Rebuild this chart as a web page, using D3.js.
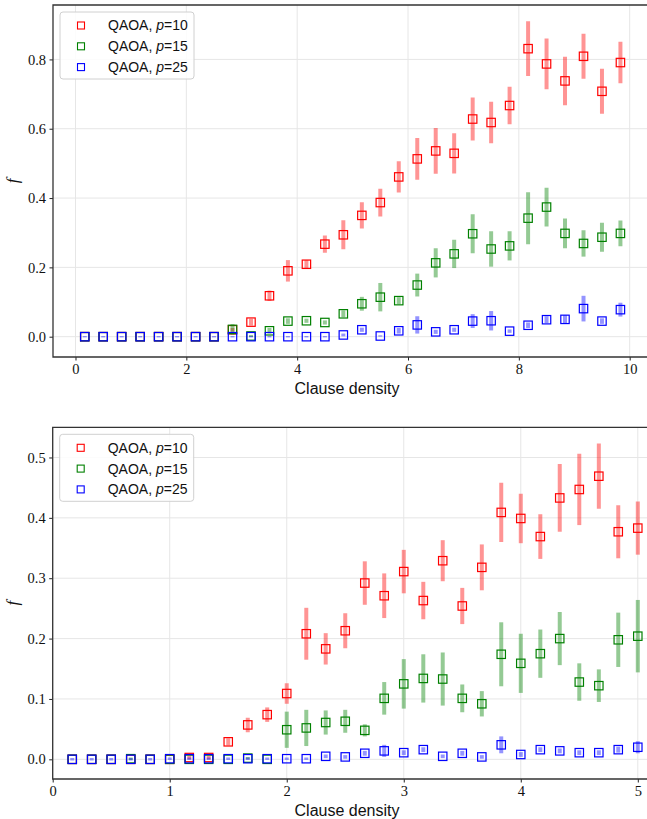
<!DOCTYPE html>
<html>
<head>
<meta charset="utf-8">
<script src="https://cdn.jsdelivr.net/npm/d3@7"></script>
<style>
  body { margin: 0; background: #fff; }
  svg { display: block; }
  .legend text { font-family: 'Liberation Sans', Arial, sans-serif; font-size: 14px; fill: #111; }
</style>
</head>
<body>
<svg id="chart" width="647" height="819"></svg>
<script>
// x positions (clause density) of the top run: steps of 1/3
const xTop = [0.167, 0.5, 0.833, 1.167, 1.5, 1.833, 2.167, 2.5, 2.833, 3.167,
  3.5, 3.833, 4.167, 4.5, 4.833, 5.167, 5.5, 5.833, 6.167, 6.5,
  6.833, 7.167, 7.5, 7.833, 8.167, 8.5, 8.833, 9.167, 9.5, 9.833];

const red10Top = [0, 0, 0, 0, 0, 0, 0, 0, 0.02, 0.042,
  0.118, 0.19, 0.209, 0.267, 0.294, 0.35, 0.387, 0.461, 0.513, 0.536,
  0.529, 0.628, 0.618, 0.667, 0.831, 0.787, 0.738, 0.809, 0.708, 0.791];
const red10TopErr = [0, 0, 0, 0, 0, 0, 0, 0, 0.005, 0.01,
  0.015, 0.031, 0.012, 0.025, 0.042, 0.038, 0.04, 0.045, 0.06, 0.066,
  0.058, 0.062, 0.06, 0.054, 0.079, 0.073, 0.07, 0.065, 0.065, 0.06];

const green15Top = [0, 0, 0, 0, 0, 0, 0, 0, 0.021, 0.002,
  0.017, 0.045, 0.046, 0.041, 0.066, 0.095, 0.114, 0.104, 0.149, 0.213,
  0.239, 0.297, 0.253, 0.262, 0.342, 0.374, 0.298, 0.269, 0.287, 0.298];
const green15TopErr = [0, 0, 0, 0, 0, 0, 0, 0, 0.015, 0.003,
  0.008, 0.008, 0.006, 0.006, 0.01, 0.02, 0.041, 0.01, 0.033, 0.042,
  0.041, 0.056, 0.051, 0.042, 0.075, 0.056, 0.043, 0.038, 0.042, 0.037];

const blue25Top = [0, 0, 0, 0, 0, 0, 0, 0, 0, 0,
  0, 0, 0, 0, 0.005, 0.02, 0.002, 0.017, 0.034, 0.014,
  0.02, 0.045, 0.046, 0.016, 0.033, 0.049, 0.05, 0.081, 0.045, 0.078];
const blue25TopErr = [0.002, 0.002, 0.002, 0.002, 0.002, 0.002, 0.002, 0.002, 0.002, 0.002,
  0.002, 0.002, 0.002, 0.002, 0.004, 0.006, 0.002, 0.008, 0.025, 0.006,
  0.006, 0.02, 0.028, 0.005, 0.008, 0.01, 0.012, 0.037, 0.008, 0.02];

// bottom run: steps of 1/6
const xBot = [0.167, 0.333, 0.5, 0.667, 0.833, 1.0, 1.167, 1.333, 1.5, 1.667,
  1.833, 2.0, 2.167, 2.333, 2.5, 2.667, 2.833, 3.0, 3.167, 3.333,
  3.5, 3.667, 3.833, 4.0, 4.167, 4.333, 4.5, 4.667, 4.833, 5.0];

const red10Bot = [0, 0, 0, 0, 0, 0, 0.003, 0.003, 0.029, 0.057,
  0.074, 0.109, 0.208, 0.183, 0.213, 0.292, 0.271, 0.311, 0.263, 0.329,
  0.254, 0.318, 0.409, 0.399, 0.369, 0.433, 0.447, 0.469, 0.377, 0.383];
const red10BotErr = [0, 0, 0, 0, 0, 0, 0.003, 0.003, 0.006, 0.012,
  0.012, 0.017, 0.043, 0.026, 0.029, 0.036, 0.037, 0.036, 0.031, 0.034,
  0.03, 0.038, 0.049, 0.041, 0.037, 0.056, 0.059, 0.054, 0.044, 0.044];

const green15Bot = [0, 0, 0, 0.001, 0, 0, 0, 0, 0, 0.002,
  0, 0.049, 0.052, 0.061, 0.063, 0.048, 0.101, 0.125, 0.134, 0.133,
  0.101, 0.092, 0.174, 0.159, 0.175, 0.2, 0.128, 0.122, 0.198, 0.204];
const green15BotErr = [0, 0, 0, 0.002, 0, 0, 0, 0, 0, 0.002,
  0, 0.03, 0.03, 0.02, 0.019, 0.01, 0.027, 0.041, 0.04, 0.044,
  0.023, 0.021, 0.053, 0.049, 0.04, 0.044, 0.031, 0.027, 0.045, 0.06];

const blue25Bot = [0, 0, 0, 0, 0, 0.001, 0.001, 0.001, 0.001, 0.001,
  0.001, 0.001, 0.001, 0.005, 0.004, 0.01, 0.014, 0.011, 0.016, 0.005,
  0.01, 0.004, 0.024, 0.008, 0.016, 0.014, 0.011, 0.011, 0.016, 0.02];
const blue25BotErr = [0.002, 0.002, 0.002, 0.002, 0.002, 0.002, 0.002, 0.002, 0.002, 0.002,
  0.002, 0.002, 0.002, 0.003, 0.003, 0.004, 0.01, 0.004, 0.004, 0.003,
  0.004, 0.003, 0.014, 0.004, 0.004, 0.004, 0.004, 0.004, 0.005, 0.01];

const seriesNames = ['10', '15', '25'];
const seriesColors = ['#ff0000', '#008000', '#0000ff'];

const topTicksX = [0, 2, 4, 6, 8, 10];
const topTicksY = [0, 0.2, 0.4, 0.6, 0.8];
const botTicksX = [0, 1, 2, 3, 4, 5];
const botTicksY = [0, 0.1, 0.2, 0.3, 0.4, 0.5];

const svg = d3.select('#chart');

function styleTicks(a) {
  a.select('.domain').remove();
  a.selectAll('.tick line').attr('stroke', '#222');
  a.selectAll('.tick text')
    .attr('fill', '#111')
    .attr('font-family', "'Liberation Serif', 'DejaVu Serif', serif")
    .attr('font-size', 14.5);
}

function drawPanel(cfg) {
  const x = d3.scaleLinear().domain(cfg.xDomain).range([cfg.left, cfg.right]);
  const y = d3.scaleLinear().domain(cfg.yDomain).range([cfg.bottom, cfg.top]);
  const g = svg.append('g');

  //clip path so the right side can run off the page like in the original
  const clipId = 'clip' + cfg.id;
  g.append('clipPath').attr('id', clipId)
    .append('rect')
    .attr('x', cfg.left).attr('y', cfg.top)
    .attr('width', cfg.right - cfg.left).attr('height', cfg.bottom - cfg.top);

  //grid
  const grid = g.append('g');
  grid.selectAll('.gx').data(cfg.ticksX).join('line')
    .attr('x1', (d) => x(d)).attr('x2', (d) => x(d))
    .attr('y1', cfg.top).attr('y2', cfg.bottom)
    .attr('stroke', '#e6e6e6').attr('stroke-width', 1);
  grid.selectAll('.gy').data(cfg.ticksY).join('line')
    .attr('x1', cfg.left).attr('x2', cfg.right)
    .attr('y1', (d) => y(d)).attr('y2', (d) => y(d))
    .attr('stroke', '#e6e6e6').attr('stroke-width', 1);

  //series: error bars first, markers after
  const plot = g.append('g').attr('clip-path', `url(#${clipId})`);
  cfg.series.forEach((s, i) => {
    const pts = cfg.xs.map((xv, k) => ({ x: xv, v: s.vals[k], e: s.errs[k] }));
    const sg = plot.append('g');
    sg.selectAll('line').data(pts.filter((d) => d.e > 0)).join('line')
      .attr('x1', (d) => x(d.x)).attr('x2', (d) => x(d.x))
      .attr('y1', (d) => y(d.v - d.e)).attr('y2', (d) => y(d.v + d.e))
      .attr('stroke', seriesColors[i])
      .attr('stroke-opacity', 0.42)
      .attr('stroke-width', 4);
    sg.selectAll('rect').data(pts).join('rect')
      .attr('x', (d) => x(d.x) - 4.2)
      .attr('y', (d) => y(d.v) - 4.2)
      .attr('width', 8.4).attr('height', 8.4)
      .attr('fill', 'none')
      .attr('stroke', seriesColors[i])
      .attr('stroke-width', 1.2);
  });

  //axes
  const xAxis = d3.axisBottom(x).tickValues(cfg.ticksX).tickSize(3.5).tickPadding(3.5)
    .tickFormat(d3.format('d'));
  g.append('g').attr('transform', `translate(0,${cfg.bottom})`).call(xAxis).call(styleTicks);
  const yAxis = d3.axisLeft(y).tickValues(cfg.ticksY).tickSize(3.5).tickPadding(3.5)
    .tickFormat(d3.format('.1f'));
  g.append('g').attr('transform', `translate(${cfg.left},0)`).call(yAxis).call(styleTicks);

  //frame (left, bottom, top) - right spine is off the page
  g.append('path')
    .attr('d', `M${cfg.right},${cfg.top}H${cfg.left}V${cfg.bottom}H${cfg.right}`)
    .attr('fill', 'none').attr('stroke', '#333').attr('stroke-width', 1.3);

  //labels
  g.append('text')
    .attr('x', 347).attr('y', cfg.bottom + 37)
    .attr('text-anchor', 'middle')
    .attr('font-family', "'Liberation Sans', Arial, sans-serif")
    .attr('font-size', 16).attr('fill', '#111')
    .text('Clause density');
  g.append('text')
    .attr('transform', `translate(18,${(cfg.top + cfg.bottom) / 2}) rotate(-90)`)
    .attr('text-anchor', 'middle')
    .attr('font-family', "'Liberation Serif', 'DejaVu Serif', serif")
    .attr('font-style', 'italic')
    .attr('font-size', 17).attr('fill', '#111')
    .text('f');

  //legend
  const lg = g.append('g').attr('class', 'legend')
    .attr('transform', `translate(${cfg.left + 7},${cfg.top + 7})`);
  lg.append('rect')
    .attr('width', 134).attr('height', 67).attr('rx', 3)
    .attr('fill', '#fff').attr('fill-opacity', 0.85)
    .attr('stroke', '#d0d0d0').attr('stroke-width', 1);
  const rows = lg.selectAll('.row').data(seriesNames).join('g')
    .attr('transform', (d, i) => `translate(0,${13.5 + i * 20.8})`);
  rows.append('rect')
    .attr('x', 17.5).attr('y', -3.5).attr('width', 7).attr('height', 7)
    .attr('fill', 'none')
    .attr('stroke', (d, i) => seriesColors[i]).attr('stroke-width', 1.1);
  const t = rows.append('text').attr('x', 48).attr('dy', '0.35em');
  t.append('tspan').text('QAOA, ');
  t.append('tspan').attr('font-style', 'italic').text('p');
  t.append('tspan').text((d) => '=' + d);
}

drawPanel({
  id: 'top', left: 53, right: 652.4, top: 5, bottom: 357,
  xDomain: [-0.406, 10.41], yDomain: [-0.0586, 0.957],
  ticksX: topTicksX, ticksY: topTicksY, xs: xTop,
  series: [
    { vals: red10Top, errs: red10TopErr },
    { vals: green15Top, errs: green15TopErr },
    { vals: blue25Top, errs: blue25TopErr },
  ],
});

drawPanel({
  id: 'bot', left: 52.7, right: 649.5, top: 427.3, bottom: 779,
  xDomain: [0, 5.1], yDomain: [-0.0326, 0.55],
  ticksX: botTicksX, ticksY: botTicksY, xs: xBot,
  series: [
    { vals: red10Bot, errs: red10BotErr },
    { vals: green15Bot, errs: green15BotErr },
    { vals: blue25Bot, errs: blue25BotErr },
  ],
});
</script>
</body>
</html>
